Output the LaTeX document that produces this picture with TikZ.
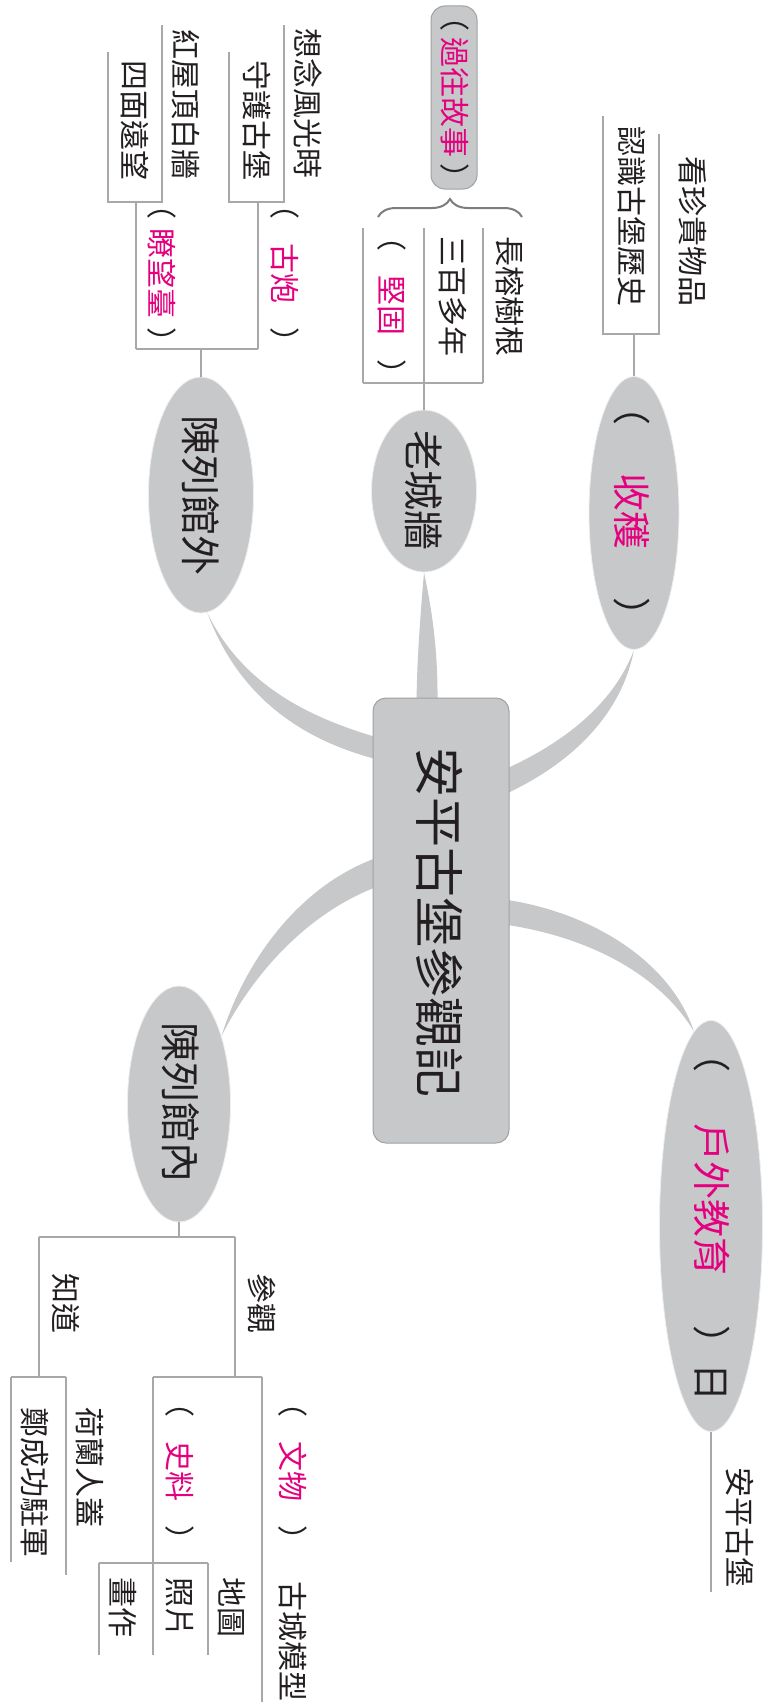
\documentclass[tikz,border=0pt]{standalone}
\usepackage{fontspec}
\newfontfamily\cjk{Noto Sans CJK TC}
\usetikzlibrary{calc,decorations.pathreplacing,backgrounds,shapes.geometric}
\definecolor{bub}{RGB}{199,200,202}
\definecolor{bubedge}{RGB}{160,161,163}
\definecolor{ln}{RGB}{168,168,170}
\definecolor{mag}{RGB}{228,0,127}
\definecolor{ink}{RGB}{35,31,32}
\definecolor{brc}{RGB}{125,125,127}
\newcommand{\pf}[2]{（\makebox[#1]{\color{mag}#2}）}
\tikzset{
 bubble/.style={ellipse, fill=bub, draw=white!70!bub, line width=0.8pt, inner sep=0pt},
 rootbox/.style={rectangle, rounded corners=13pt, fill=bub, draw=bubedge, line width=1pt, inner sep=0pt},
 vt/.style={rotate=-90, inner sep=0pt, text=ink, font=\cjk\fontsize{30}{30}\selectfont},
 big/.style={vt, font=\cjk\fontsize{40}{40}\selectfont},
 mid/.style={vt, font=\cjk\fontsize{38}{38}\selectfont},
 tree/.style={draw=ln, line width=1.5pt},
 conn/.style={fill=bub},
 bracestyle/.style={draw=brc, line width=2pt, decorate, decoration={brace, amplitude=18pt}},
}
\begin{document}
\begin{tikzpicture}[x=1pt,y=-1pt]
\useasboundingbox (0,0) rectangle (763,1702);
\begin{scope}[on background layer]
\fill[white] (0,0) rectangle (763,1702);
\end{scope}

% ---------- main nodes ----------
\node[rootbox, minimum width=136, minimum height=445] (root) at (441,920.5) {};
\node[vt, font=\cjk\fontsize{50}{50}\selectfont] (tRoot) at (440,922) {安平古堡參觀記};

\node[bubble, minimum width=105, minimum height=236] (eOut) at (201,495) {};
\node[big] (tOut) at (201,495) {陳列館外};

\node[bubble, minimum width=105, minimum height=162] (eWall) at (424,491) {};
\node[big] (tWall) at (424,490) {老城牆};

\node[bubble, minimum width=90, minimum height=273] (eHarv) at (634,513) {};
\node[mid] (tHarv) at (632,511.5) {\pf{4.52em}{收穫}};

\node[bubble, minimum width=103, minimum height=411] (eEdu) at (711,1226) {};
\node[mid] (tEdu) at (712,1218) {\pf{6.65em}{戶外教育}日};

\node[bubble, minimum width=103, minimum height=236] (eIn) at (179,1104) {};
\node[big] (tIn) at (181,1102.5) {陳列館內};

\node[rootbox, rounded corners=14pt, minimum width=46, minimum height=183] (story) at (454,97.5) {};
\node[vt] (tStory) at (455,97.5) {\pf{4.43em}{過往故事}};

% ---------- tapered connectors ----------
\begin{scope}[on background layer]
\fill[conn] (eOut.-87) .. controls (240,680) and (300,715) .. ($(root.north west)+(5,40)$)
  -- ($(root.north west)+(5,62)$) .. controls (290,737) and (235,687) .. (eOut.-87) -- cycle;
\fill[conn] (eWall.south) .. controls (420,620) and (417,660) .. ($(root.north west)+(44,5)$)
  -- ($(root.north west)+(65,5)$) .. controls (438,650) and (432,610) .. (eWall.south) -- cycle;
\fill[conn] ($(root.north east)+(-5,72)$) .. controls (570,740) and (615,700) .. (eHarv.south)
  .. controls (622,712) and (575,762) .. ($(root.north east)+(-5,97)$) -- cycle;
\fill[conn] ($(root.north east)+(-5,202)$) .. controls (590,912) and (670,960) .. (eEdu.95)
  .. controls (660,975) and (590,937) .. ($(root.north east)+(-5,227)$) -- cycle;
\fill[conn] ($(root.north west)+(5,160)$) .. controls (300,885) and (245,960) .. (eIn.58)
  .. controls (255,970) and (310,912) .. ($(root.north west)+(5,189)$) -- cycle;
\end{scope}

% ---------- 陳列館外 branch ----------
\coordinate (o0) at (201,349);
\coordinate (oL) at (136,349);
\coordinate (oR) at (258,349);
\coordinate (oLt) at (136,202);
\coordinate (oRt) at (258,202);
\coordinate (a1) at (229,202);
\coordinate (a2) at (284,202);
\coordinate (a1t) at (229,52);
\coordinate (a2t) at (284,25);
\coordinate (b1) at (108,202);
\coordinate (b2) at (162,202);
\coordinate (b1t) at (108,52);
\coordinate (b2t) at (162,25);
\draw[tree] (eOut.north) -- (o0);
\draw[tree] (oL) -- (oR);
\draw[tree] (oR) -- (oRt);
\draw[tree] (oL) -- (oLt);
\draw[tree] (a1t) -- (a1) -- (a2) -- (a2t);
\draw[tree] (b1t) -- (b1) -- (b2) -- (b2t);
\node[vt] (gupao) at (285,273) {\pf{3.6em}{古炮}};
\node[vt] (liaow) at (162,273) {\pf{3.6em}{瞭望臺}};
\node[vt] (xn) at (308,104) {想念風光時};
\node[vt] (sh) at (257,121) {守護古堡};
\node[vt] (hw) at (186,105) {紅屋頂白牆};
\node[vt] (sm) at (135,121) {四面遠望};

% ---------- 老城牆 branch ----------
\coordinate (w0) at (424,383);
\coordinate (wL) at (363,383);
\coordinate (wR) at (483,383);
\coordinate (wLt) at (363,228);
\coordinate (wMt) at (424,228);
\coordinate (wRt) at (483,228);
\draw[tree] (eWall.north) -- (w0);
\draw[tree] (wL) -- (wR);
\draw[tree] (wL) -- (wLt);
\draw[tree] (w0) -- (wMt);
\draw[tree] (wR) -- (wRt);
\node[vt] (jg) at (392,305.5) {\pf{3.6em}{堅固}};
\node[vt] (sb) at (453,296) {三百多年};
\node[vt] (cr) at (510,296) {長榕樹根};
\coordinate (brL) at (378,217);
\coordinate (brR) at (522,217);
\draw[bracestyle] (brL) -- (brR);

% ---------- 收穫 branch ----------
\coordinate (h0) at (634,334);
\coordinate (hL) at (603,334);
\coordinate (hR) at (659,334);
\coordinate (hLt) at (603,116);
\coordinate (hRt) at (659,134);
\draw[tree] (eHarv.north) -- (h0);
\draw[tree] (hLt) -- (hL) -- (hR) -- (hRt);
\node[vt] (rs) at (632,216) {認識古堡歷史};
\node[vt] (kz) at (693,231.5) {看珍貴物品};

% ---------- 戶外教育 branch ----------
\coordinate (u1) at (711,1592);
\draw[tree] (eEdu.south) -- (u1);
\node[vt] (ap) at (740,1527) {安平古堡};

% ---------- 陳列館內 branch ----------
\coordinate (i0) at (179,1237);
\coordinate (iL) at (39,1237);
\coordinate (iR) at (235,1237);
\coordinate (iLb) at (39,1377);
\coordinate (iRb) at (235,1377);
\draw[tree] (eIn.south) -- (i0);
\draw[tree] (iL) -- (iR);
\draw[tree] (iR) -- (iRb);
\draw[tree] (iL) -- (iLb);
\node[vt] (cg) at (262,1303.5) {參觀};
\node[vt] (zd) at (66,1303.5) {知道};

\coordinate (c1) at (153,1377);
\coordinate (c2) at (262,1377);
\coordinate (c2b) at (262,1712);
\coordinate (c1b) at (153,1655);
\draw[tree] (c1) -- (c2);
\draw[tree] (c2) -- (c2b);
\draw[tree] (c1) -- (c1b);
\node[vt] (ww) at (293,1471.5) {\pf{3.6em}{文物}};
\node[vt] (gc) at (293,1641) {古城模型};
\node[vt] (sl) at (180,1471.5) {\pf{3.6em}{史料}};

\coordinate (d1) at (99,1563);
\coordinate (d2) at (208,1563);
\coordinate (d1b) at (99,1655);
\coordinate (d2b) at (208,1655);
\draw[tree] (d1) -- (d2);
\draw[tree] (d1) -- (d1b);
\draw[tree] (d2) -- (d2b);
\node[vt] (dt) at (232,1607) {地圖};
\node[vt] (zp) at (180,1607) {照片};
\node[vt] (hz) at (123,1607) {畫作};

\coordinate (k1) at (11,1377);
\coordinate (k2) at (66,1377);
\coordinate (k1b) at (11,1562);
\coordinate (k2b) at (66,1575);
\draw[tree] (k1) -- (k2);
\draw[tree] (k1) -- (k1b);
\draw[tree] (k2) -- (k2b);
\node[vt] (hl) at (90,1467) {荷蘭人蓋};
\node[vt] (zc) at (35,1482.5) {鄭成功駐軍};
\end{tikzpicture}
\end{document}
